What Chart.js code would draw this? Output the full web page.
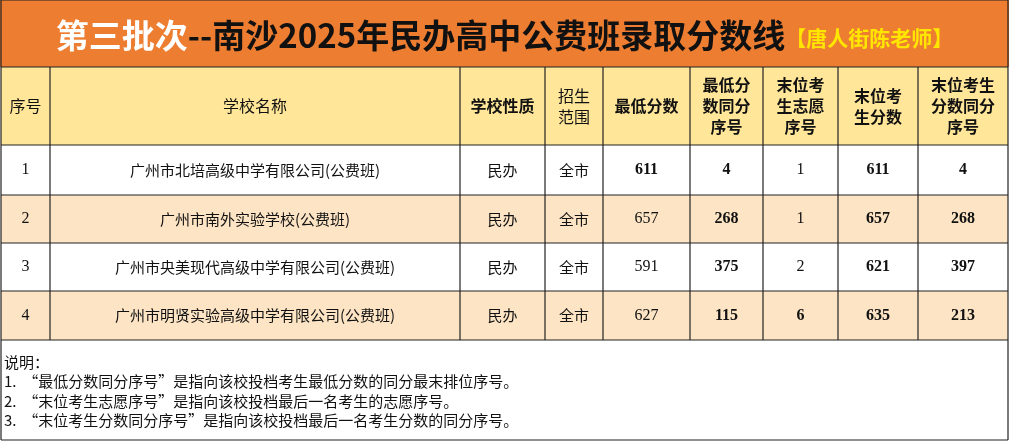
<!DOCTYPE html>
<html><head><meta charset="utf-8">
<script src="https://cdn.jsdelivr.net/npm/chart.js@4"></script>
<style>html,body{margin:0;padding:0;background:#fff}#w{width:1010px;height:442px}</style>
</head><body><div id="w"><canvas id="c"></canvas></div>
<script>
const titleMain = "第三批次";
const titleRest = "--南沙2025年民办高中公费班录取分数线";
const titleTag = "【唐人街陈老师】";
const headers = ["序号","学校名称","学校性质","招生\n范围","最低分数","最低分\n数同分\n序号","末位考\n生志愿\n序号","末位考\n生分数","末位考生\n分数同分\n序号"];
const seq = ["1","2","3","4"];
const schools = ["广州市北培高级中学有限公司(公费班)","广州市南外实验学校(公费班)","广州市央美现代高级中学有限公司(公费班)","广州市明贤实验高级中学有限公司(公费班)"];
const nature = ["民办","民办","民办","民办"];
const scope = ["全市","全市","全市","全市"];
const minScore = [611,657,591,627];
const minScoreRank = [4,268,375,115];
const lastChoice = [1,1,2,6];
const lastScore = [611,657,621,635];
const lastScoreRank = [4,268,397,213];
const notes = ["说明：","1.  “最低分数同分序号”是指向该校投档考生最低分数的同分最末排位序号。","2.  “末位考生志愿序号”是指向该校投档最后一名考生的志愿序号。","3.  “末位考生分数同分序号”是指向该校投档最后一名考生分数的同分序号。"];

// layout (not data)
const colEdges=[1,50,460,545,603,690,763,838,918,1008];
const rowEdges=[1,67,145,195,243,291,340,440];
const headBold=[false,false,true,false,true,true,true,true,true];
const boldCell=(c,r)=>{ if(c===4) return r===0; if(c===6) return r===3; return c>=5; };

const CJK='"Noto Sans CJK SC"';
const tablePlugin={id:'table',afterDraw(ch){
  const ctx=ch.ctx, xs=ch.scales.x, ys=ch.scales.y;
  const X=v=>xs.getPixelForValue(v), Y=v=>ys.getPixelForValue(v);
  ctx.save();
  // backgrounds
  ctx.fillStyle='#ED7D31'; ctx.fillRect(X(0),Y(0),X(1009)-X(0),Y(rowEdges[1])-Y(0));
  ctx.fillStyle='#FFE699'; ctx.fillRect(X(colEdges[0]),Y(rowEdges[1]),X(colEdges[9])-X(colEdges[0]),Y(rowEdges[2])-Y(rowEdges[1]));
  ctx.fillStyle='#FCE4C4';
  [1,3].forEach(r=>ctx.fillRect(X(colEdges[0]),Y(rowEdges[2+r]),X(colEdges[9])-X(colEdges[0]),Y(rowEdges[3+r])-Y(rowEdges[2+r])));
  // title
  ctx.textBaseline='middle';
  const ty=Y(35);
  ctx.font='bold 33px '+CJK; 
  const w1=ctx.measureText(titleMain).width, w2=ctx.measureText(titleRest).width;
  ctx.font='bold 21px '+CJK; const w3=ctx.measureText(titleTag).width;
  let tx=(X(0)+X(1009))/2-(w1+w2+w3)/2;
  ctx.textAlign='left';
  ctx.font='bold 33px '+CJK; ctx.fillStyle='#fff'; ctx.fillText(titleMain,tx,ty); tx+=w1;
  ctx.fillStyle='#111'; ctx.fillText(titleRest,tx,ty); tx+=w2;
  ctx.font='bold 21px '+CJK; ctx.fillStyle='#FFE600'; ctx.fillText(titleTag,tx,ty+3);
  // grid
  ctx.strokeStyle='#222'; ctx.lineWidth=1.2;
  for(let i=1;i<rowEdges.length;i++){ctx.beginPath();ctx.moveTo(X(colEdges[0]),Y(rowEdges[i]));ctx.lineTo(X(colEdges[9]),Y(rowEdges[i]));ctx.stroke();}
  ctx.beginPath();ctx.moveTo(X(colEdges[0]),Y(0));ctx.lineTo(X(colEdges[9]),Y(0));ctx.stroke();
  ctx.beginPath();ctx.moveTo(X(colEdges[0]),Y(0));ctx.lineTo(X(colEdges[0]),Y(440));ctx.stroke();
  ctx.beginPath();ctx.moveTo(X(colEdges[9]),Y(0));ctx.lineTo(X(colEdges[9]),Y(440));ctx.stroke();
  for(let i=1;i<colEdges.length-1;i++){ctx.beginPath();ctx.moveTo(X(colEdges[i]),Y(rowEdges[1]));ctx.lineTo(X(colEdges[i]),Y(rowEdges[6]));ctx.stroke();}
  // header
  ctx.textAlign='center'; ctx.fillStyle='#111';
  headers.forEach((h,c)=>{
    const lines=h.split('\n'); const cx=(X(colEdges[c])+X(colEdges[c+1]))/2, cy=(Y(rowEdges[1])+Y(rowEdges[2]))/2;
    ctx.font=(headBold[c]?'bold ':'')+'16px '+CJK;
    lines.forEach((l,i)=>ctx.fillText(l,cx,cy+(i-(lines.length-1)/2)*21));
  });
  // body
  const cols=[seq,schools,nature,scope,minScore,minScoreRank,lastChoice,lastScore,lastScoreRank];
  for(let r=0;r<4;r++){
    const cy=(Y(rowEdges[2+r])+Y(rowEdges[3+r]))/2;
    cols.forEach((arr,c)=>{
      const cx=(X(colEdges[c])+X(colEdges[c+1]))/2;
      const v=String(arr[r]);
      const num=/^\d+$/.test(v);
      ctx.font=(boldCell(c,r)?'bold ':'')+(num?'16px "Liberation Serif"':'15px '+CJK);
      ctx.fillText(v,cx,cy);
    });
  }
  // notes
  ctx.textAlign='left'; ctx.font='15px '+CJK;
  notes.forEach((n,i)=>ctx.fillText(n,X(4),Y(362+i*19.5)));
  ctx.restore();
}};
new Chart(document.getElementById('c'),{type:'scatter',data:{datasets:[{data:[]}]},
  options:{responsive:true,maintainAspectRatio:false,animation:false,layout:{padding:0},
  plugins:{legend:{display:false},tooltip:{enabled:false}},
  scales:{x:{type:'linear',min:0,max:1010,display:false},y:{type:'linear',min:0,max:442,reverse:true,display:false}}},
  plugins:[tablePlugin]});
</script></body></html>
